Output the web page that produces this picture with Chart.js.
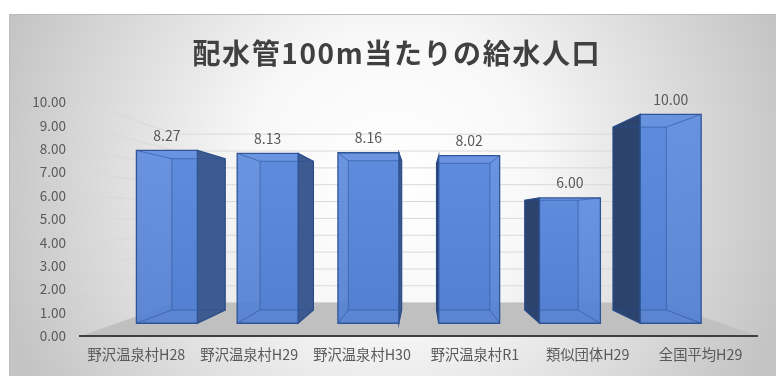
<!DOCTYPE html>
<html lang="ja">
<head>
<meta charset="utf-8">
<title>配水管100m当たりの給水人口</title>
<script src="https://cdn.jsdelivr.net/npm/chart.js@4/dist/chart.umd.min.js"></script>
<style>
  html, body { margin: 0; padding: 0; background: #ffffff; }
  #wrap { width: 776px; height: 376px; }
</style>
</head>
<body>
<div id="wrap"><canvas id="chart" width="776" height="376"></canvas></div>
<script>
// Categories and values
const chartTitle = '配水管100m当たりの給水人口';
const categories = ['野沢温泉村H28', '野沢温泉村H29', '野沢温泉村H30', '野沢温泉村R1', '類似団体H29', '全国平均H29'];
const values = [8.27, 8.13, 8.16, 8.02, 6.00, 10.00];
const axisMin = 0;
const axisMax = 10;
const axisStep = 1;

// Perspective: vanishing point (as fractions of the plot area) and depth factors
const VANISH = { fx: 0.504, fy: 0.491 };
const DEPTH_FRONT = 0.893;  // front faces of the boxes
const DEPTH_BACK = 0.782;   // back faces of the boxes
const DEPTH_WALL = 0.72;    // back wall / far edge of the floor

function vanishingPoint(area) {
  return {
    x: area.left + VANISH.fx * (area.right - area.left),
    y: area.top + VANISH.fy * (area.bottom - area.top)
  };
}
function project(x, y, s, vp) {
  return { x: vp.x + s * (x - vp.x), y: vp.y + s * (y - vp.y) };
}
function poly(ctx, pts) {
  ctx.beginPath();
  ctx.moveTo(pts[0].x, pts[0].y);
  for (let i = 1; i < pts.length; i++) ctx.lineTo(pts[i].x, pts[i].y);
  ctx.closePath();
}

// Background, title, walls with gridlines and the floor
const scenePlugin = {
  id: 'scene',
  beforeDraw(chart) {
    const ctx = chart.ctx;
    const area = chart.chartArea;
    const yScale = chart.scales.y;
    const vp = vanishingPoint(area);
    ctx.save();
    ctx.fillStyle = '#ffffff';
    ctx.fillRect(0, 0, chart.width, chart.height);
    const g = ctx.createRadialGradient(392, 175, 0, 392, 175, 410);
    g.addColorStop(0, '#ffffff');
    g.addColorStop(0.35, '#f8f8f8');
    g.addColorStop(1, '#c4c4c4');
    ctx.fillStyle = g;
    ctx.fillRect(9, 14, chart.width - 9, chart.height - 14);
    ctx.strokeStyle = '#bdbdbd';
    ctx.lineWidth = 1;
    ctx.beginPath();
    ctx.moveTo(9.5, chart.height);
    ctx.lineTo(9.5, 14.5);
    ctx.lineTo(chart.width, 14.5);
    ctx.stroke();

    // title
    ctx.fillStyle = '#404040';
    ctx.font = 'bold 28px "Noto Sans CJK JP", sans-serif';
    ctx.textAlign = 'center';
    ctx.textBaseline = 'middle';
    const spacing = 1.6;
    if ('letterSpacing' in ctx) ctx.letterSpacing = spacing + 'px';
    ctx.fillText(chartTitle, 396 + spacing / 2, 53);
    if ('letterSpacing' in ctx) ctx.letterSpacing = '0px';

    // gridlines on the side wall and the back wall
    ctx.strokeStyle = '#d9d9d9';
    ctx.lineWidth = 1;
    for (let v = axisMin; v <= axisMax; v += axisStep) {
      const yy = yScale.getPixelForValue(v);
      const a = project(area.left, yy, DEPTH_WALL, vp);
      const b = project(area.right, yy, DEPTH_WALL, vp);
      ctx.beginPath();
      ctx.moveTo(area.left, yy);
      ctx.lineTo(a.x, a.y);
      ctx.lineTo(b.x, b.y);
      ctx.stroke();
    }

    // floor
    const base = yScale.getPixelForValue(axisMin);
    const fl = project(area.left, base, DEPTH_WALL, vp);
    const fr = project(area.right, base, DEPTH_WALL, vp);
    ctx.fillStyle = '#c0c0c0';
    poly(ctx, [{ x: area.left, y: base }, { x: area.right, y: base }, fr, fl]);
    ctx.fill();
    ctx.restore();
  }
};

// 3D boxes and value labels drawn from each bar element
const boxPlugin = {
  id: 'boxes',
  afterDatasetsDraw(chart) {
    const ctx = chart.ctx;
    const area = chart.chartArea;
    const vp = vanishingPoint(area);
    const meta = chart.getDatasetMeta(0);
    ctx.save();
    meta.data.forEach((el, i) => {
      const half = el.width / 2;
      const l = el.x - half, r = el.x + half;
      const top = el.y, base = el.base;
      const F = (x, y) => project(x, y, DEPTH_FRONT, vp);
      const B = (x, y) => project(x, y, DEPTH_BACK, vp);
      const fTL = F(l, top), fTR = F(r, top), fBL = F(l, base), fBR = F(r, base);
      const bTL = B(l, top), bTR = B(r, top), bBL = B(l, base), bBR = B(r, base);
      const rightSide = el.x < vp.x;

      // back face
      ctx.fillStyle = '#4a76c4';
      poly(ctx, [bTL, bTR, bBR, bBL]);
      ctx.fill();

      // visible side face
      const side = rightSide ? [fTR, bTR, bBR, fBR] : [fTL, bTL, bBL, fBL];
      ctx.fillStyle = rightSide ? '#3d5b91' : '#2c436e';
      poly(ctx, side);
      ctx.fill();
      ctx.strokeStyle = '#2a4c88';
      ctx.lineWidth = 1.2;
      poly(ctx, side);
      ctx.stroke();

      // front face (slightly translucent)
      const fg = ctx.createLinearGradient(0, fTL.y, 0, fBL.y);
      fg.addColorStop(0, 'rgba(96,141,222,0.93)');
      fg.addColorStop(1, 'rgba(84,128,210,0.93)');
      ctx.fillStyle = fg;
      poly(ctx, [fTL, fTR, fBR, fBL]);
      ctx.fill();

      // hidden edges seen through the front face
      ctx.strokeStyle = 'rgba(40,78,150,0.55)';
      ctx.lineWidth = 1;
      ctx.beginPath();
      const edge = rightSide
        ? [[bTR, bTL], [bTL, bBL], [bBL, bBR], [fTL, bTL], [fBL, bBL]]
        : [[bTL, bTR], [bTR, bBR], [bBR, bBL], [fTR, bTR], [fBR, bBR]];
      edge.forEach(([p, q]) => { ctx.moveTo(p.x, p.y); ctx.lineTo(q.x, q.y); });
      ctx.stroke();

      // front outline
      ctx.strokeStyle = '#2f5597';
      ctx.lineWidth = 1.3;
      poly(ctx, [fTL, fTR, fBR, fBL]);
      ctx.stroke();

      // value label
      const c = F(el.x, top);
      ctx.fillStyle = '#595959';
      ctx.font = '14px "Noto Sans CJK JP", "Noto Sans", sans-serif';
      ctx.textAlign = 'center';
      ctx.textBaseline = 'middle';
      ctx.fillText(values[i].toFixed(2), c.x, c.y - 15);
    });
    ctx.restore();
  }
};

new Chart(document.getElementById('chart'), {
  type: 'bar',
  data: {
    labels: categories,
    datasets: [{
      data: values,
      backgroundColor: 'rgba(0,0,0,0)',
      borderWidth: 0,
      categoryPercentage: 1,
      barPercentage: 0.605
    }]
  },
  options: {
    responsive: false,
    devicePixelRatio: 1,
    animation: false,
    layout: { padding: { left: 10, right: 19, top: 102, bottom: 0 } },
    plugins: {
      legend: { display: false },
      tooltip: { enabled: false },
      title: { display: false }
    },
    scales: {
      x: {
        grid: { display: false, drawTicks: false },
        border: { display: true, color: '#404040', width: 2 },
        ticks: {
          color: '#595959',
          padding: 10,
          maxRotation: 0,
          autoSkip: false,
          font: { family: '"Noto Sans CJK JP", sans-serif', size: 14.3 }
        },
        afterFit(scale) { scale.height = 40; }
      },
      y: {
        min: axisMin,
        max: axisMax,
        grid: { display: false, drawTicks: false },
        border: { display: false },
        ticks: {
          stepSize: axisStep,
          color: '#595959',
          padding: 14,
          font: { family: '"Noto Sans CJK JP", sans-serif', size: 13.5 },
          callback: v => Number(v).toFixed(2)
        },
        afterFit(scale) { scale.width = 70; }
      }
    }
  },
  plugins: [scenePlugin, boxPlugin]
});
</script>
</body>
</html>
